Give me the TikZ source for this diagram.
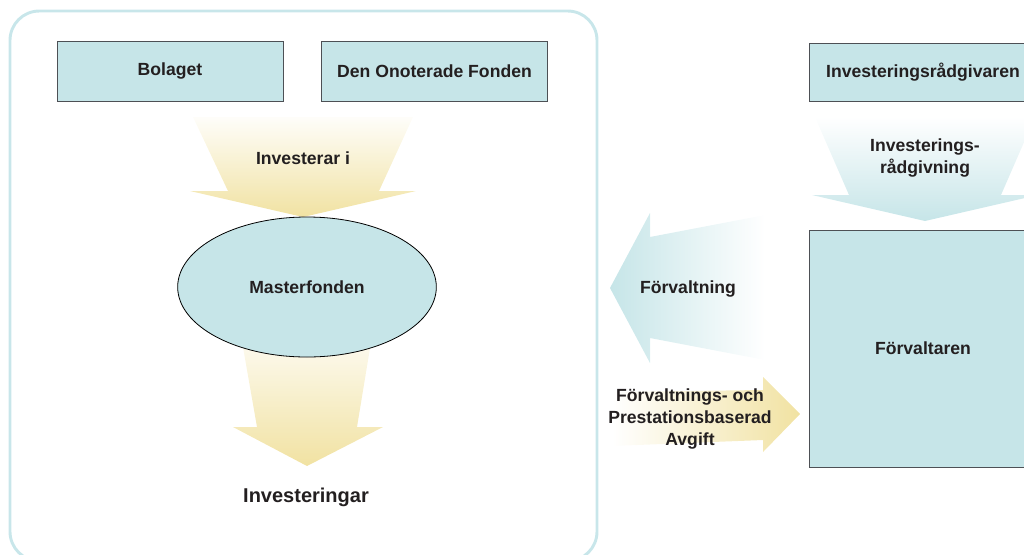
\documentclass[tikz,border=0pt]{standalone}
\usepackage{fontspec}
\setmainfont{Liberation Sans}
\usetikzlibrary{positioning,shapes.geometric}
\definecolor{boxfill}{HTML}{C6E5E8}
\definecolor{framecol}{HTML}{C8E6EA}
\definecolor{gold}{HTML}{F1E2A2}
\definecolor{edge}{HTML}{4D5055}
\definecolor{ink}{HTML}{231F20}
\tikzset{
  party/.style={draw=edge,fill=boxfill,line width=0.65pt,inner sep=0pt,
    font=\fontsize{13.2}{16.5}\selectfont\bfseries,text=ink},
  lbl/.style={align=center,inner sep=0pt,text=ink,
    font=\fontsize{13.2}{16.5}\selectfont\bfseries},
  frame/.style={draw=framecol,line width=2.2pt,rounded corners=22pt}
}
\begin{document}
\begin{tikzpicture}[x=0.75pt,y=-0.75pt]
  \useasboundingbox (0,0) rectangle (1024,554);
  \clip (0,0) rectangle (1024,554);
  % fund structure
  \draw[frame] (10,11) rectangle (597,561);
  \node[party,minimum width=169.5pt,minimum height=45pt] (bolaget) at (170,71) {Bolaget};
  \node[party,minimum width=170pt,minimum height=45pt] (fonden) at (434.5,71) {Den Onoterade Fonden};
  \shade[top color=gold!6,bottom color=gold]
    (193,117) -- (413,117) -- (379,191) -- (416,191) -- (303,217)
    -- (190,191) -- (228,191) -- cycle;
  \node[lbl] (investerar) at (303,158) {Investerar i};
  \shade[top color=gold!10,bottom color=gold]
    (240,330) -- (373,330) -- (357,427) -- (383,427) -- (307,466)
    -- (233,427) -- (257,427) -- cycle;
  \node[party,ellipse,draw=black,line width=0.6pt,minimum width=194pt,minimum height=105pt] (master) at (307,287) {Masterfonden};
  \node[lbl,font=\fontsize{15}{18}\selectfont\bfseries] (invest) at (306,497) {Investeringar};
  % advisor and manager
  \node[party,minimum width=171pt,minimum height=44pt] (radgivare) at (923,72.5) {Investeringsrådgivaren};
  \shade[top color=white,bottom color=boxfill]
    (815,117) -- (1035,117) -- (1001,195) -- (1038,195) -- (925,221)
    -- (812,195) -- (849,195) -- cycle;
  \node[lbl] (radgivning) at (925,158) {Investerings-\\rådgivning};
  \node[party,minimum width=171pt,minimum height=177.75pt] (forvaltare) at (923,348.5) {Förvaltaren};
  \shade[left color=boxfill,right color=white]
    (765,215) -- (650,237) -- (650,213) -- (610,288) -- (650,363)
    -- (650,338) -- (765,360) -- cycle;
  \node[lbl] (forvaltning) at (688,289) {Förvaltning};
  \shade[left color=white,right color=gold]
    (612,392) -- (763,390) -- (763,377) -- (800,414) -- (763,452)
    -- (763,440) -- (612,446) -- cycle;
  \node[lbl] (avgift) at (690,419) {Förvaltnings- och\\Prestationsbaserad\\Avgift};
\end{tikzpicture}
\end{document}
